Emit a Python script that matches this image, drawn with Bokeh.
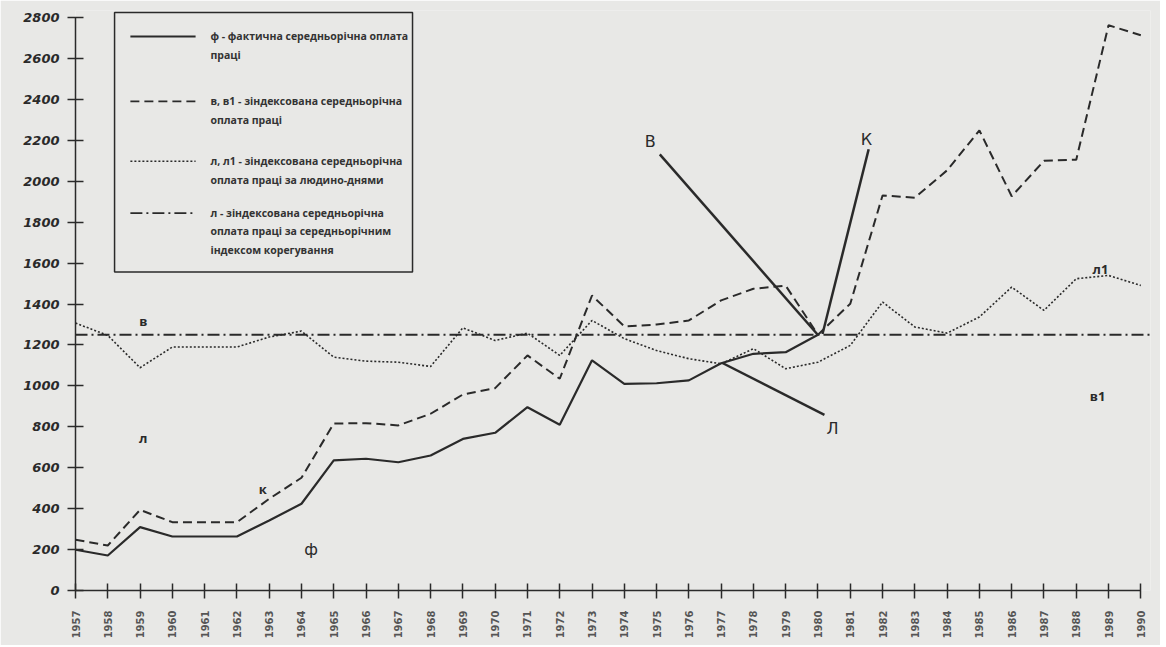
import math
from bokeh.plotting import figure
from bokeh.models import Range1d, FixedTicker, Span, BoxAnnotation, Label
from bokeh.embed import file_html
from bokeh.resources import INLINE

# ---------------- data ----------------
years_f = list(range(1957, 1981))
f_vals = [199, 171, 310, 264, 264, 264, 342, 424, 636, 644, 627, 660, 741, 771,
          896, 810, 1125, 1010, 1013, 1027, 1111, 1157, 1165, 1250]

years_all = list(range(1957, 1991))
# в (1957-1980) and в1 (1980-1990)
v_vals = [248, 220, 394, 334, 334, 334, 448, 551, 816, 818, 807, 864, 958, 989,
          1149, 1035, 1442, 1291, 1300, 1320, 1418, 1475, 1490, 1250,
          1402, 1931, 1920, 2054, 2249, 1927, 2100, 2106, 2763, 2714]
# л (1957-1980) and л1 (1980-1990)
l_vals = [1307, 1247, 1089, 1190, 1190, 1190, 1239, 1268, 1141, 1121, 1116, 1095,
          1284, 1222, 1258, 1149, 1320, 1231, 1173, 1133, 1108, 1182, 1084, 1116,
          1198, 1410, 1288, 1258, 1337, 1483, 1369, 1524, 1540, 1491]
k_level = 1250
y_ticks = list(range(0, 2801, 200))

legend_entries = [
    ["ф - фактична середньорічна оплата", "праці"],
    ["в, в1 - зіндексована середньорічна", "оплата праці"],
    ["л, л1 - зіндексована середньорічна", "оплата праці за людино-днями"],
    ["л - зіндексована середньорічна", "оплата праці за середньорічним",
     "індексом корегування"],
]

INK = "#2a2a2a"
BG = "#e8e8e6"
FONT = "Open Sans"

p = figure(width=1160, height=645, output_backend="svg", toolbar_location=None,
           x_range=Range1d(1957, 1990.3), y_range=Range1d(0, 2835),
           min_border_left=75, min_border_right=10, min_border_top=10,
           min_border_bottom=55)
p.background_fill_color = BG
p.border_fill_color = BG
p.outline_line_color = None
p.xgrid.grid_line_color = None
p.ygrid.grid_line_color = None

# axes
p.yaxis.ticker = FixedTicker(ticks=y_ticks)
p.yaxis.bounds = (0, 2800)
p.yaxis.major_label_text_font = "DejaVu Sans"
p.yaxis.major_label_text_font_style = "bold italic"
p.yaxis.major_label_text_font_size = "13px"
p.yaxis.major_label_text_color = INK
p.yaxis.major_tick_in = 8
p.yaxis.major_tick_out = 8
p.yaxis.minor_tick_line_color = None
p.yaxis.major_label_standoff = 8
p.yaxis.axis_line_width = 1.5
p.yaxis.axis_line_color = INK
p.yaxis.major_tick_line_color = INK
p.yaxis.major_tick_line_width = 1.5

p.xaxis.ticker = FixedTicker(ticks=years_all)
p.xaxis.bounds = (1957, 1990)
p.xaxis.major_label_orientation = math.pi / 2
p.xaxis.major_label_text_font = "DejaVu Sans"
p.xaxis.major_label_text_font_style = "bold"
p.xaxis.major_label_text_font_size = "10px"
p.xaxis.major_label_text_color = "#555555"
p.xaxis.major_tick_in = 7
p.xaxis.major_tick_out = 8
p.xaxis.minor_tick_line_color = None
p.xaxis.major_label_standoff = 12
p.xaxis.axis_line_width = 1.5
p.xaxis.axis_line_color = INK
p.xaxis.major_tick_line_color = INK
p.xaxis.major_tick_line_width = 1.5

# legend box (drawn beneath glyphs)
p.add_layout(BoxAnnotation(left=1958.21, right=1967.44, top=2825, bottom=1557,
                           fill_color=BG, fill_alpha=1.0, line_color=INK,
                           line_alpha=1.0, line_width=1.5, level="underlay"))

# series
p.add_layout(Span(location=k_level, dimension="width", line_color=INK,
                  line_width=2, line_dash="12 4 2 4"))
p.line(years_all, l_vals, line_color=INK, line_width=1.6, line_dash="2 2")
p.line(years_all, v_vals, line_color=INK, line_width=2, line_dash="9 5")
p.line(years_f, f_vals, line_color=INK, line_width=2.2)

# pointer lines to base year
p.segment(x0=[1975.1, 1981.57, 1977.04], y0=[2132, 2157, 1112],
          x1=[1980.0, 1980.14, 1980.2], y1=[1249, 1254, 859],
          line_color=INK, line_width=2.5)

# series letters
small = [("в", 1959.1, 1317), ("л", 1959.1, 747), ("к", 1962.8, 498),
         ("л1", 1988.75, 1571), ("в1", 1988.66, 951)]
for t, x, y in small:
    p.add_layout(Label(x=x, y=y, text=t, text_font=FONT, text_font_style="bold",
                       text_font_size="13px", text_color=INK,
                       text_align="center", text_baseline="middle"))
big = [("ф", 1964.3, 200), ("В", 1974.8, 2196), ("К", 1981.5, 2206), ("Л", 1980.45, 790)]
for t, x, y in big:
    p.add_layout(Label(x=x, y=y, text=t, text_font="DejaVu Sans",
                       text_font_size="16px", text_color=INK,
                       text_align="center", text_baseline="middle"))

# legend samples and texts
entry_y = [2708, 2391, 2098, 1845]
line_gap = 90
dashes = ["solid", "9 5", "2 2", "12 4 2 4"]
widths = [2, 1.8, 1.4, 1.8]
for i, (lines, y0) in enumerate(zip(legend_entries, entry_y)):
    p.line([1958.70, 1960.72], [y0, y0], line_color=INK, line_width=widths[i],
           line_dash=dashes[i])
    for j, txt in enumerate(lines):
        p.add_layout(Label(x=1961.18, y=y0 - j * line_gap, text=txt,
                           text_font=FONT, text_font_style="bold",
                           text_font_size="10.5px",
                           text_color="#333333", text_align="left",
                           text_baseline="middle"))

open("out.html", "w").write(file_html(p, INLINE))
